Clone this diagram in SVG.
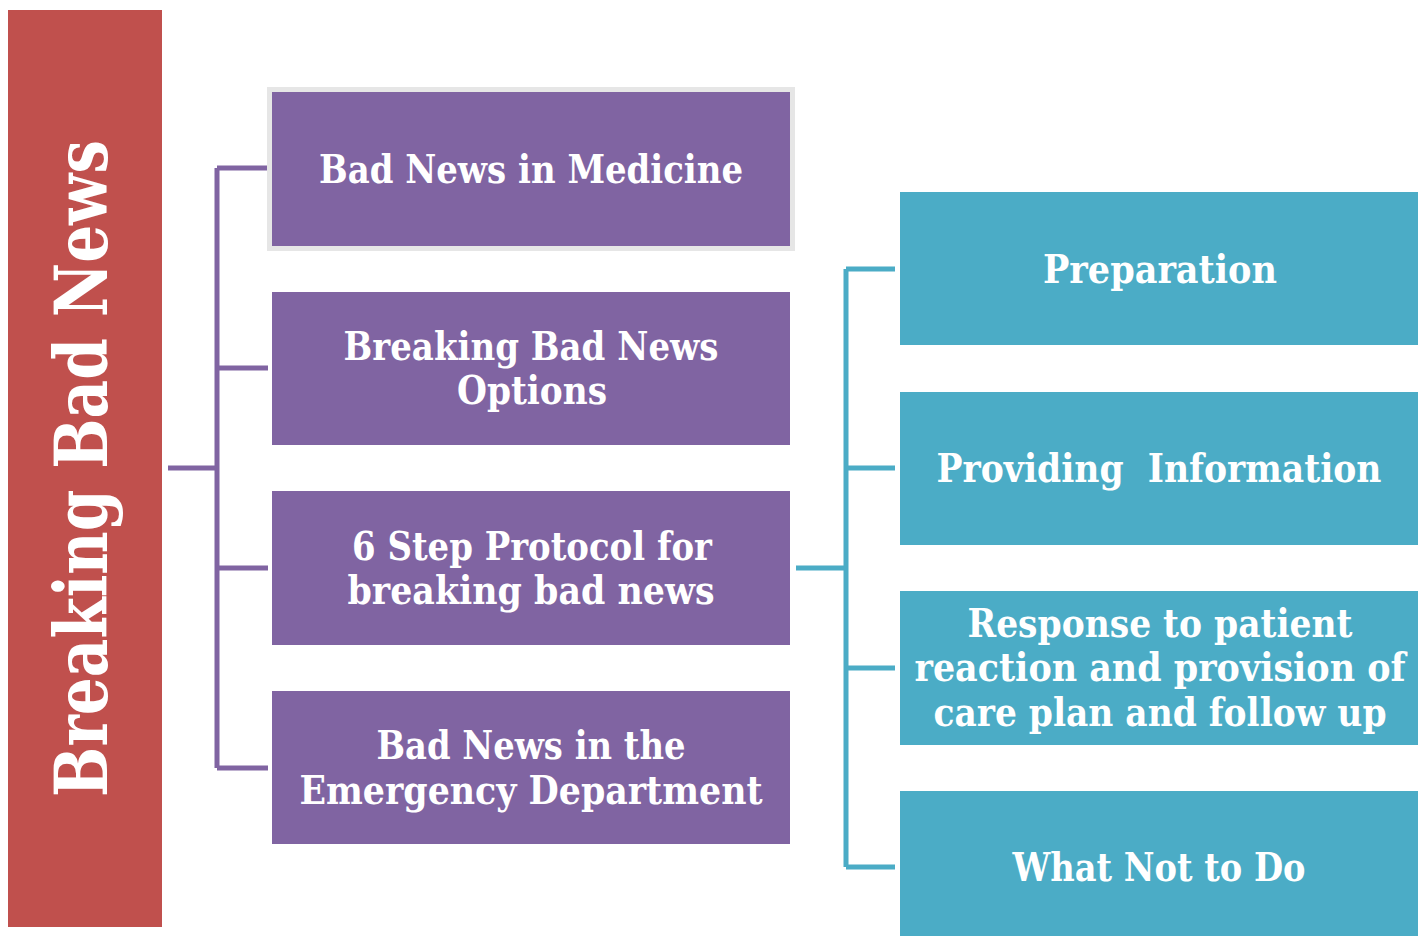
<svg xmlns="http://www.w3.org/2000/svg" width="1428" height="936" viewBox="0 0 1428 936">
  <style>
    .lbl { font-family: "DejaVu Serif", "Liberation Serif", serif; font-weight: bold; fill: #ffffff; font-size: 40px; }
    .title { font-family: "DejaVu Serif", "Liberation Serif", serif; font-weight: bold; fill: #ffffff; font-size: 72px; }
    .purple { fill: #8064A2; }
    .teal { fill: #4BACC6; }
    .plink { fill: none; stroke: #8064A2; stroke-width: 5; }
    .tlink { fill: none; stroke: #4BACC6; stroke-width: 5; }
  </style>
  <rect width="1428" height="936" fill="#ffffff"/>

  <!-- root -->
  <g id="root">
    <rect x="8" y="10" width="154" height="917" fill="#C0504D"/>
    <text class="title" transform="translate(107,797) rotate(-90)" textLength="657" lengthAdjust="spacingAndGlyphs">Breaking Bad News</text>
  </g>

  <!-- connectors -->
  <g id="connectors">
    <path class="plink" d="M168,468 H217 M217,168 V768 M217,168 H268 M217,368 H268 M217,568 H268 M217,768 H268"/>
    <path class="tlink" d="M796,568 H846 M846,269 V867 M846,269 H895 M846,468 H895 M846,668 H895 M846,867 H895"/>
  </g>

  <!-- first level -->
  <g id="bad-news-in-medicine">
    <rect x="269.5" y="89.5" width="523" height="159" fill="none" stroke="#E6E6E6" stroke-width="5"/>
    <rect class="purple" x="272" y="92" width="518" height="154"/>
    <text class="lbl" x="531" y="183" text-anchor="middle" textLength="424" lengthAdjust="spacingAndGlyphs">Bad News in Medicine</text>
  </g>
  <g id="options">
    <rect class="purple" x="272" y="292" width="518" height="153"/>
    <text class="lbl" x="531" y="360" text-anchor="middle" textLength="375" lengthAdjust="spacingAndGlyphs">Breaking Bad News</text>
    <text class="lbl" x="532" y="404" text-anchor="middle" textLength="150" lengthAdjust="spacingAndGlyphs">Options</text>
  </g>
  <g id="six-step-protocol">
    <rect class="purple" x="272" y="491" width="518" height="154"/>
    <text class="lbl" x="532" y="560" text-anchor="middle" textLength="360" lengthAdjust="spacingAndGlyphs">6 Step Protocol for</text>
    <text class="lbl" x="531" y="604" text-anchor="middle" textLength="367" lengthAdjust="spacingAndGlyphs">breaking bad news</text>
  </g>
  <g id="emergency-department">
    <rect class="purple" x="272" y="691" width="518" height="153"/>
    <text class="lbl" x="531" y="759" text-anchor="middle" textLength="309" lengthAdjust="spacingAndGlyphs">Bad News in the</text>
    <text class="lbl" x="531" y="804" text-anchor="middle" textLength="463" lengthAdjust="spacingAndGlyphs">Emergency Department</text>
  </g>

  <!-- second level -->
  <g id="preparation">
    <rect class="teal" x="900" y="192" width="518" height="153"/>
    <text class="lbl" x="1160" y="283" text-anchor="middle" textLength="234" lengthAdjust="spacingAndGlyphs">Preparation</text>
  </g>
  <g id="providing-information">
    <rect class="teal" x="900" y="392" width="518" height="153"/>
    <text class="lbl" x="1159" y="482" text-anchor="middle" textLength="445" lengthAdjust="spacingAndGlyphs" xml:space="preserve">Providing  Information</text>
  </g>
  <g id="response">
    <rect class="teal" x="900" y="591" width="518" height="154"/>
    <text class="lbl" x="1160" y="637" text-anchor="middle" textLength="385" lengthAdjust="spacingAndGlyphs">Response to patient</text>
    <text class="lbl" x="1160" y="681" text-anchor="middle" textLength="491" lengthAdjust="spacingAndGlyphs">reaction and provision of</text>
    <text class="lbl" x="1160" y="726" text-anchor="middle" textLength="453" lengthAdjust="spacingAndGlyphs">care plan and follow up</text>
  </g>
  <g id="what-not-to-do">
    <rect class="teal" x="900" y="791" width="518" height="145"/>
    <text class="lbl" x="1159" y="881" text-anchor="middle" textLength="293" lengthAdjust="spacingAndGlyphs">What Not to Do</text>
  </g>
</svg>
